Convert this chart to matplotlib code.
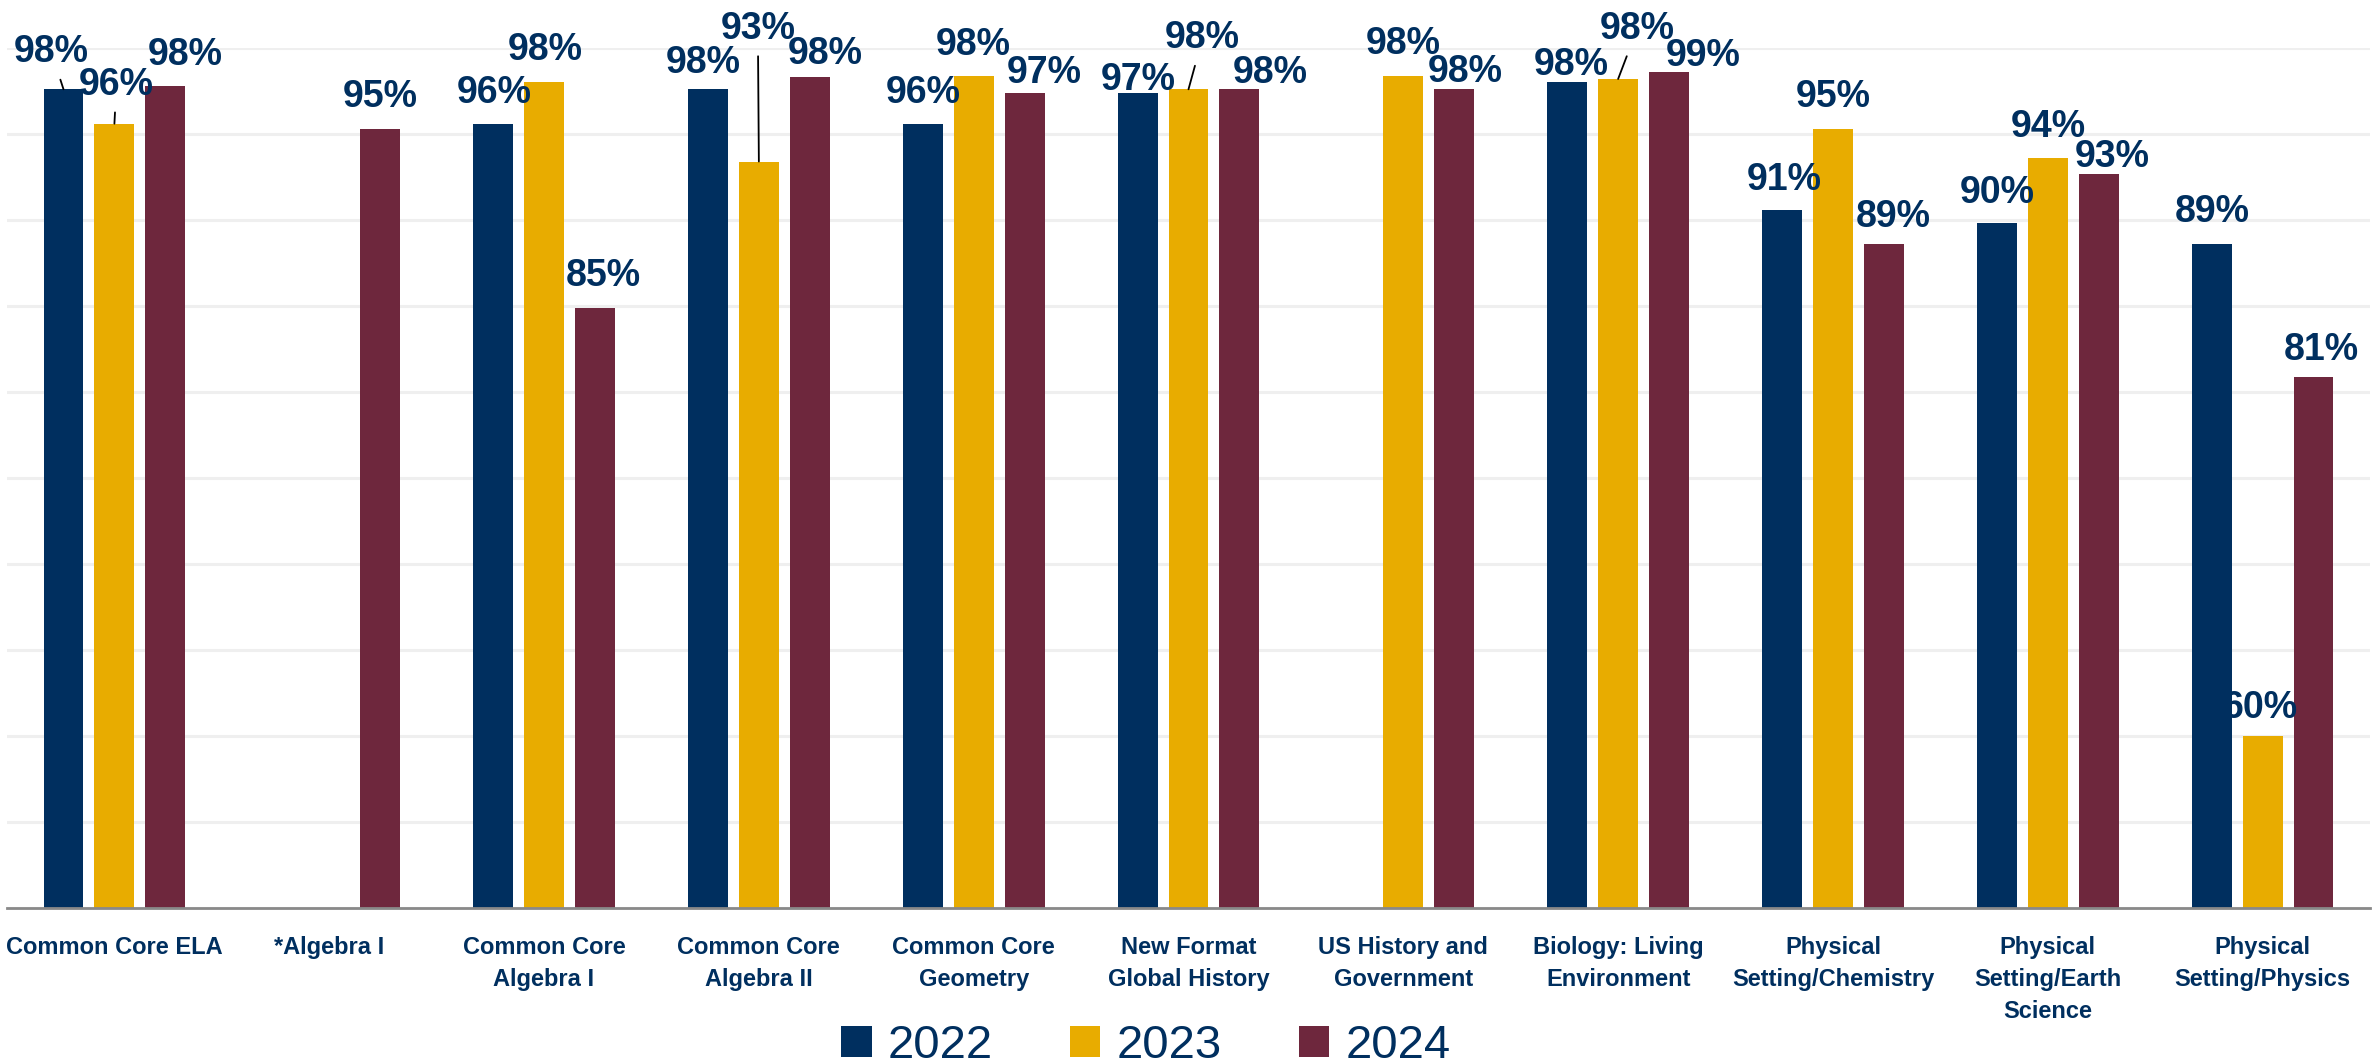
import numpy as np
import matplotlib
matplotlib.use("Agg")
import matplotlib.pyplot as plt

plt.rcParams['font.family'] = ['Liberation Sans', 'DejaVu Sans']

categories = ["Common Core ELA", "*Algebra I", "Common Core\nAlgebra I", "Common Core\nAlgebra II",
              "Common Core\nGeometry", "New Format\nGlobal History", "US History and\nGovernment",
              "Biology: Living\nEnvironment", "Physical\nSetting/Chemistry", "Physical\nSetting/Earth\nScience",
              "Physical\nSetting/Physics"]
years = ["2022", "2023", "2024"]
vals_2022 = [97.6, np.nan, 95.6, 97.6, 95.6, 97.4, np.nan, 98.0, 90.6, 89.8, 88.6]
vals_2023 = [95.6, np.nan, 98.0, 93.4, 98.4, 97.6, 98.4, 98.2, 95.3, 93.6, 60.0]
vals_2024 = [97.8, 95.3, 84.9, 98.3, 97.4, 97.6, 97.6, 98.6, 88.6, 92.7, 80.9]

navy = '#002F5F'
colors = [navy, '#E8AC00', '#6E273D']

# label offsets in pixels (dx, dy) from bar top, and whether a leader line is drawn
offs_2022 = [(-12, 42, True), None, (1, 36, False), (-5, 31, False), (0, 36, False), (1, 18, False),
             None, (4, 22, False), (2, 35, False), (0, 35, False), (1, 37, False)]
offs_2023 = [(2, 44, True), None, (1, 37, False), (-1, 138, True), (0, 36, False), (14, 56, True),
             (0, 37, False), (19, 55, True), (0, 37, False), (1, 36, False), (-2, 33, False)]
offs_2024 = [(20, 36, False), (0, 37, False), (8, 37, False), (15, 28, False), (20, 25, False),
             (31, 21, False), (11, 22, False), (34, 21, False), (9, 32, False), (14, 22, False), (8, 32, False)]

fig = plt.figure(figsize=(23.74, 10.64), dpi=100)
ax = fig.add_axes([7 / 2374, 1 - 908 / 1064, 2363 / 2374, 860 / 1064])

x = np.arange(len(categories))
step = 0.237
width = 0.186
series = [vals_2022, vals_2023, vals_2024]
offsets = [offs_2022, offs_2023, offs_2024]

for i, (vals, offs) in enumerate(zip(series, offsets)):
    xs = x + (i - 1) * step
    ax.bar(xs, vals, width, color=colors[i], label=years[i], zorder=2)
    for xi, v, o in zip(xs, vals, offs):
        if np.isnan(v) or o is None:
            continue
        dx, dy, lead = o
        kw = {}
        if lead:
            kw['arrowprops'] = dict(arrowstyle='-', color='black', lw=1.3, shrinkA=5, shrinkB=0)
        # text box centre sits a bit below the glyph centre, so nudge down
        ax.annotate(f"{v:.0f}%", xy=(xi, v), xytext=(dx, dy - 5), textcoords='offset pixels',
                    ha='center', va='center', fontsize=27, fontweight='bold', color=navy,
                    annotation_clip=False, zorder=3, **kw)

ax.set_xlim(-0.5, len(categories) - 0.5)
ax.set_ylim(50, 100)
ax.set_yticks(np.arange(50, 101, 5))
ax.set_yticklabels([])
ax.tick_params(axis='y', length=0)
ax.yaxis.grid(True, color='#EFEFEF', lw=2.2, zorder=0)
ax.set_axisbelow(True)
for s in ['top', 'right', 'left']:
    ax.spines[s].set_visible(False)
ax.spines['bottom'].set_color('#898989')
ax.spines['bottom'].set_linewidth(2)
ax.spines['bottom'].set_zorder(4)

ax.set_xticks(x)
ax.set_xticklabels(categories, fontsize=17, fontweight='bold', color=navy, linespacing=1.5, va='top')
ax.tick_params(axis='x', length=0, pad=20)

fig.legend(loc='center', bbox_to_anchor=(1146 / 2374, 18 / 1064), ncol=3, frameon=False,
           fontsize=34, labelcolor=navy, handlelength=0.64, handleheight=0.64,
           handletextpad=0.34, columnspacing=1.64)

fig.savefig("out.png", dpi=100)
